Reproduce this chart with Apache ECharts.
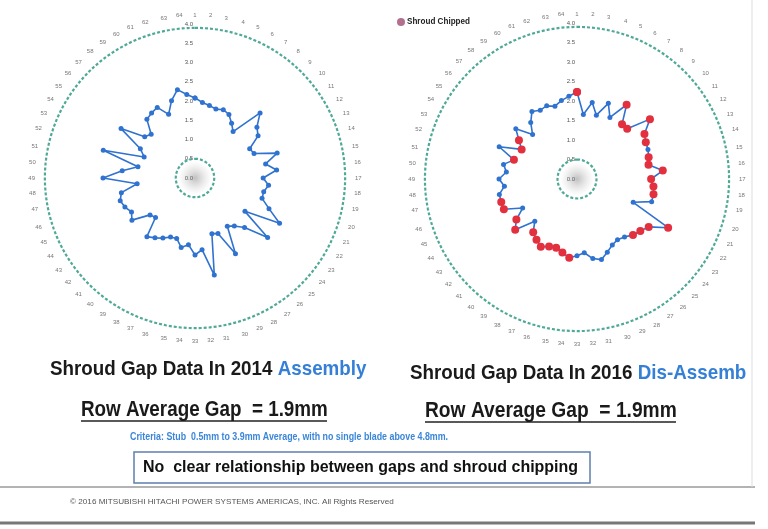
<!DOCTYPE html>
<html>
<head>
<meta charset="utf-8">
<script src="https://cdn.jsdelivr.net/npm/echarts@6/dist/echarts.min.js"></script>
<style>html,body{margin:0;padding:0;background:#fff;}#c{width:768px;height:529px;}</style>
</head>
<body>
<div id="c"></div>
<script>
// ---- data ----
const bladeLabels = Array.from({length: 64}, (_, i) => String(i + 1));
const gap2014 = [2.08,1.97,1.92,1.87,1.92,1.87,1.71,1.56,2.39,2.08,1.97,1.61,1.66,2.23,1.87,2.13,
  1.77,1.92,1.82,1.82,2.08,2.49,1.56,2.44,1.82,1.61,1.51,2.23,1.56,1.51,2.57,1.87,
  2.00,1.74,1.84,1.64,1.66,1.77,1.87,1.97,1.45,1.51,1.97,1.87,1.97,2.03,1.95,1.51,
  2.39,1.90,1.51,2.49,1.43,1.61,2.31,1.69,1.61,1.97,2.03,2.08,1.79,2.10,2.34,2.18];
const gap2016 = [2.23,1.66,2.00,1.71,2.10,1.79,2.29,1.82,1.82,2.42,2.08,2.00,1.97,1.92,1.87,2.21,
  1.90,1.97,2.00,2.00,1.56,2.65,2.21,2.10,2.03,1.92,1.87,1.92,2.03,2.16,2.08,1.90,
  1.97,2.03,1.92,1.84,1.87,1.97,1.87,1.77,1.53,2.05,1.87,1.58,2.03,2.03,2.03,1.87,
  2.00,1.82,1.92,1.69,2.16,1.61,1.79,2.03,1.61,1.87,2.08,2.00,2.03,1.95,2.05,2.13];
const chippedBlades2016 = [1,7,8,9,10,11,12,14,15,16,17,18,19,22,23,24,25,34,35,36,37,38,39,40,42,43,45,46,52,54,55];
const criteriaMin = 0.5;
const criteriaMax = 3.9;
const radialMax = 4.0;
const radialStep = 0.5;

// ---- build ----
const N = bladeLabels.length;
function closed(vals) {
  const d = vals.map((v, i) => [v, i]);
  d.push([vals[0], N]);
  return d;
}
function ring(r) {
  const d = [];
  for (let a = 0; a <= N; a += 0.5) d.push([r, a]);
  return d;
}
const chart = echarts.init(document.getElementById('c'), null, {renderer: 'canvas'});
const teal = '#4fa996';
const blue = '#2f72cf';
const red = '#e3303f';
const FN = "'Liberation Sans', Arial, sans-serif";

function angleAxis(idx) {
  return {
    polarIndex: idx, type: 'value', min: 0, max: N, interval: 1,
    startAngle: 90, clockwise: true,
    axisLine: {show: false}, axisTick: {show: false}, splitLine: {show: false},
    axisLabel: {fontSize: 6, color: '#777', margin: 6,
      formatter: v => (v < N ? bladeLabels[v] : '')}
  };
}
function radiusAxis(idx) {
  return {
    polarIndex: idx, type: 'value', min: 0, max: radialMax, interval: radialStep,
    axisLine: {show: false}, axisTick: {show: false}, splitLine: {show: false},
    axisLabel: {fontSize: 6, color: '#555', margin: 2, formatter: v => v.toFixed(1)}
  };
}
function hub(idx) {
  return {
    type: 'scatter', coordinateSystem: 'polar', polarIndex: idx, silent: true,
    data: [[0, 0]], symbolSize: 34, z: 1,
    itemStyle: {color: {type: 'radial', x: 0.5, y: 0.5, r: 0.5,
      colorStops: [{offset: 0, color: 'rgba(110,110,110,0.55)'}, {offset: 1, color: 'rgba(180,180,180,0)'}]}}
  };
}
function ringSeries(idx, r) {
  return {
    type: 'line', coordinateSystem: 'polar', polarIndex: idx, silent: true,
    data: ring(r), showSymbol: false, z: 2,
    lineStyle: {color: teal, width: 2.2, type: [3, 2]}
  };
}

const chipSet = new Set(chippedBlades2016);
const data2016 = closed(gap2016).map((p, i) => {
  const blade = (i % N) + 1;
  return chipSet.has(blade)
    ? {value: p, symbolSize: 8, itemStyle: {color: red}}
    : {value: p};
});

function txt(x, y, text, size, opts) {
  opts = opts || {};
  return {type: 'text', x: x, y: y, scaleX: opts.sx || 1, z: 10, style: {
    text: text, fontSize: size, fontFamily: FN, fontWeight: opts.w || 'normal',
    fill: opts.c || '#1a1a1a', textVerticalAlign: 'middle', rich: opts.rich}};
}

const titleRich = {
  a: {fontSize: 21, fontFamily: FN, fill: '#1a1a1a', fontWeight: 'bold'},
  b: {fontSize: 21, fontFamily: FN, fill: '#3580d6', fontWeight: 'bold'}
};

const option = {
  animation: false,
  backgroundColor: '#fff',
  polar: [
    {center: [195, 178], radius: 154},
    {center: [577, 179], radius: 156}
  ],
  angleAxis: [angleAxis(0), angleAxis(1)],
  radiusAxis: [radiusAxis(0), radiusAxis(1)],
  series: [
    hub(0), hub(1),
    ringSeries(0, criteriaMin), ringSeries(0, criteriaMax),
    ringSeries(1, criteriaMin), ringSeries(1, criteriaMax),
    {
      name: '2014', type: 'line', coordinateSystem: 'polar', polarIndex: 0, z: 5,
      data: closed(gap2014), symbol: 'circle', symbolSize: 5,
      lineStyle: {color: blue, width: 1.6}, itemStyle: {color: blue}
    },
    {
      name: 'Shroud Chipped', type: 'line', coordinateSystem: 'polar', polarIndex: 1, z: 5,
      data: data2016, symbol: 'circle', symbolSize: 5,
      lineStyle: {color: blue, width: 1.6}, itemStyle: {color: blue}
    }
  ],
  graphic: [
    // legend
    {type: 'circle', shape: {cx: 401, cy: 22, r: 4}, style: {fill: '#b2708e'}},
    txt(407, 22, 'Shroud Chipped', 9, {w: 'bold', c: '#222', sx: 0.9}),
    // titles
    txt(50, 369, '{a|Shroud Gap Data In 2014 }{b|Assembly}', 21, {sx: 0.895, rich: titleRich}),
    txt(410, 373, '{a|Shroud Gap Data In 2016 }{b|Dis-Assemb}', 21, {sx: 0.895, rich: titleRich}),
    // row average
    txt(81, 410, 'Row Average Gap  = 1.9mm', 22, {w: 'bold', sx: 0.856}),
    {type: 'line', shape: {x1: 81, y1: 421, x2: 327, y2: 421}, style: {stroke: '#222', lineWidth: 1.5}},
    txt(425, 411, 'Row Average Gap  = 1.9mm', 22, {w: 'bold', sx: 0.873}),
    {type: 'line', shape: {x1: 425, y1: 422, x2: 676, y2: 422}, style: {stroke: '#222', lineWidth: 1.5}},
    // criteria
    txt(130, 437, 'Criteria: Stub  0.5mm to 3.9mm Average, with no single blade above 4.8mm.', 11.5,
      {w: 'bold', c: '#3b86d8', sx: 0.77}),
    // box
    {type: 'rect', shape: {x: 134, y: 452, width: 456, height: 31}, style: {fill: '#fff', stroke: '#5d7fae', lineWidth: 1.5}},
    txt(143, 467, 'No  clear relationship between gaps and shroud chipping', 17, {w: 'bold', c: '#111', sx: 0.94}),
    // frame lines
    {type: 'line', shape: {x1: 0, y1: 487, x2: 755, y2: 487}, style: {stroke: '#9a9a9a', lineWidth: 1.5}},
    {type: 'line', shape: {x1: 0, y1: 523, x2: 755, y2: 523}, style: {stroke: '#777', lineWidth: 3}},
    {type: 'line', shape: {x1: 752, y1: 0, x2: 752, y2: 487}, style: {stroke: '#ddd', lineWidth: 1}},
    txt(70, 502, '\u00a9 2016 MITSUBISHI HITACHI POWER SYSTEMS AMERICAS, INC. All Rights Reserved', 8,
      {c: '#555', sx: 1.02})
  ]
};
chart.setOption(option);
</script>
</body>
</html>
